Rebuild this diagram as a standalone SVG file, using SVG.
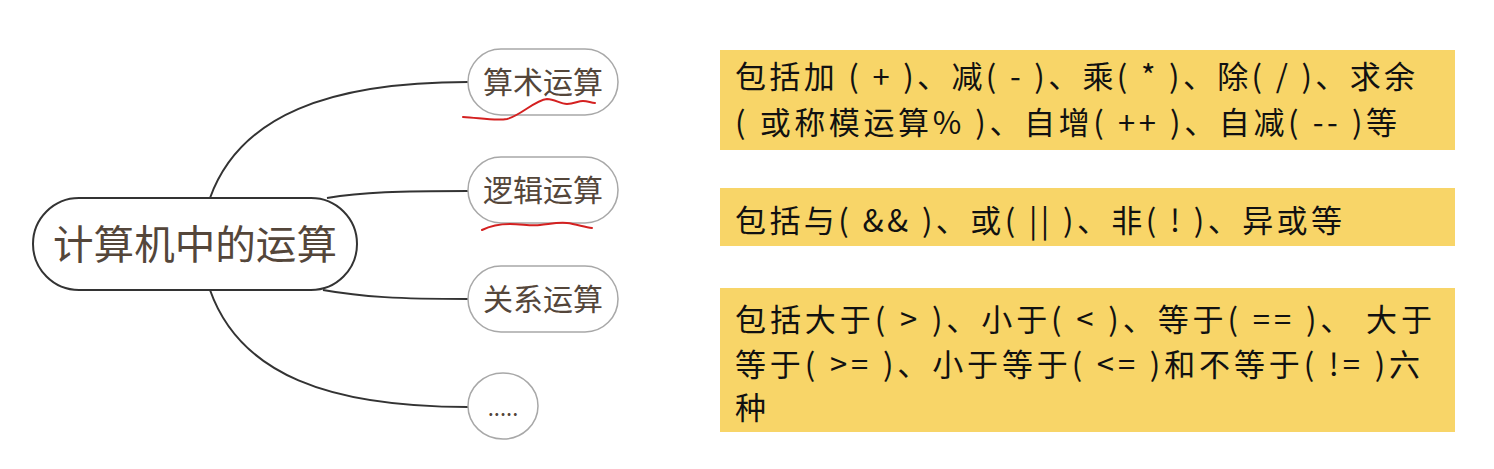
<svg xmlns="http://www.w3.org/2000/svg" width="1494" height="469" viewBox="0 0 1494 469">
<style>
.main{fill:#fff;stroke:#333;stroke-width:2}
.sub{fill:#fff;stroke:#a8a8a8;stroke-width:1.5}
.nt{font-family:"Noto Sans CJK SC","Noto Sans",sans-serif;fill:#54463a;text-anchor:middle}
.conn{fill:none;stroke:#333;stroke-width:2}
.red{fill:none;stroke:#d42020;stroke-width:2;stroke-linecap:round;stroke-linejoin:round}
.box{fill:#f8d568}
.bt{font-family:"Noto Sans CJK SC","Noto Sans",sans-serif;font-size:31px;fill:#111}
</style>
<rect width="1494" height="469" fill="#fff"/>
<g id="connectors">
<path class="conn" d="M210,198 C240,115 330,82 468,82"/>
<path class="conn" d="M327,198 C362,192 400,191 468,191"/>
<path class="conn" d="M323,290 C362,297 400,299 468,299"/>
<path class="conn" d="M210,290 C240,375 330,407 468,407"/>
</g>
<g id="node-root">
<rect class="main" x="33" y="198" width="324" height="92" rx="46"/>
<text class="nt" x="195" y="259" font-size="40" textLength="284" lengthAdjust="spacingAndGlyphs">计算机中的运算</text>
</g>
<g id="node-arith">
<rect class="sub" x="468" y="49" width="150" height="66" rx="33"/>
<text class="nt" x="543" y="93" font-size="30">算术运算</text>
</g>
<g id="node-logic">
<rect class="sub" x="468" y="157" width="150" height="66" rx="33"/>
<text class="nt" x="543" y="201" font-size="30">逻辑运算</text>
</g>
<g id="node-rel">
<rect class="sub" x="468" y="266" width="150" height="66" rx="33"/>
<text class="nt" x="543" y="310" font-size="30">关系运算</text>
</g>
<g id="node-more">
<ellipse class="sub" cx="503" cy="406" rx="35" ry="33"/>
<text class="nt" x="503" y="416" font-size="22">.....</text>
</g>
<g id="annotations">
<path class="red" d="M463,117 C480,118 495,121 507,119 C520,116 535,100 547,99 C555,99 560,104 567,104 C574,104 578,101 583,101 C588,101 591,103 595,103"/>
<path class="red" d="M482,230 C490,226 500,224 510,224 C522,224 530,226 540,225 C550,224 558,222 567,223 C576,224 584,227 592,228"/>
</g>
<g id="desc-arith">
<rect class="box" x="720" y="50" width="735" height="100"/>
<text class="bt" x="735" y="88" textLength="680" lengthAdjust="spacing">包括加 ( + )、减( - )、乘( * )、除( / )、求余</text>
<text class="bt" x="735" y="134" textLength="662" lengthAdjust="spacing">( 或称模运算% )、自增( ++ )、自减( -- )等</text>
</g>
<g id="desc-logic">
<rect class="box" x="720" y="188" width="735" height="58"/>
<text class="bt" x="735" y="232" textLength="607" lengthAdjust="spacing">包括与( &amp;&amp; )、或( || )、非( ! )、异或等</text>
</g>
<g id="desc-rel">
<rect class="box" x="720" y="288" width="735" height="144"/>
<text class="bt" x="735" y="331" textLength="697" lengthAdjust="spacing">包括大于( &gt; )、小于( &lt; )、等于( == )、 大于</text>
<text class="bt" x="735" y="376" textLength="685" lengthAdjust="spacing">等于( &gt;= )、小于等于( &lt;= )和不等于( != )六</text>
<text class="bt" x="735" y="419">种</text>
</g>
</svg>
